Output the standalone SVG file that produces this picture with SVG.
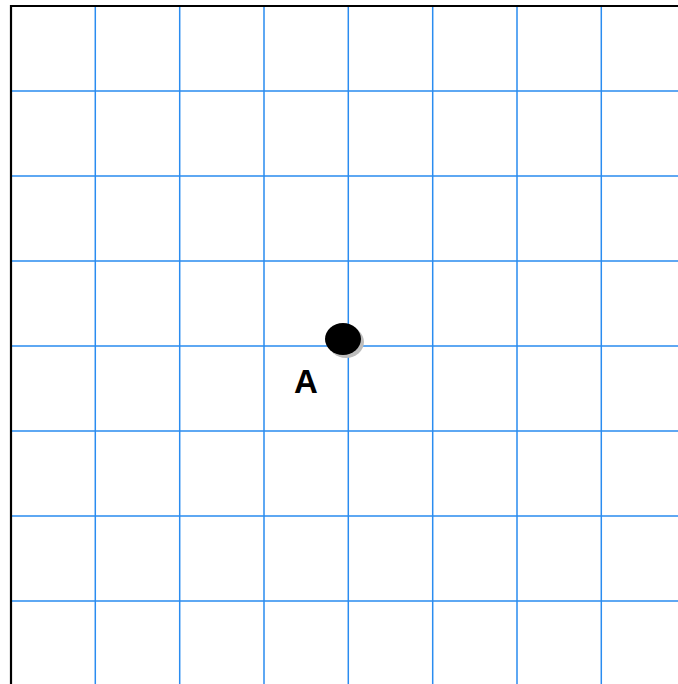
<svg xmlns="http://www.w3.org/2000/svg" width="678" height="684" viewBox="0 0 678 684">
<style>
.g{stroke:#2a8cf0;stroke-width:1.5;fill:none}
.b{stroke:#000;stroke-width:2.2;fill:none}
.lbl{font-family:"Liberation Sans",Arial,sans-serif;font-weight:bold;font-size:33px;fill:#000}
</style>
<rect width="678" height="684" fill="#fff"/>
<g id="grid">
<path class="g" d="M95.3 6V684M179.7 6V684M264 6V684M348.3 6V684M432.7 6V684M517 6V684M601.3 6V684"/>
<path class="g" d="M11 91H678M11 176H678M11 261H678M11 346H678M11 431H678M11 516H678M11 601H678"/>
<path class="b" d="M11 684V6H678"/>
</g>
<g id="pointA">
<ellipse cx="346" cy="342" rx="18" ry="16" fill="#bdbdbd"/>
<ellipse cx="343" cy="339" rx="18" ry="16" fill="#000"/>
<text class="lbl" x="306" y="393" text-anchor="middle">A</text>
</g>
</svg>
